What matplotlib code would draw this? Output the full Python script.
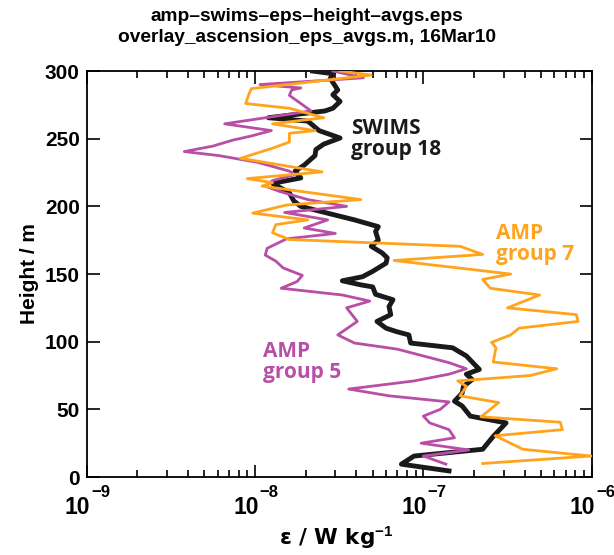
import matplotlib
matplotlib.use("Agg")
import matplotlib.pyplot as plt
import matplotlib.transforms as mtransforms
from matplotlib.ticker import LogLocator, NullFormatter, FixedLocator
import numpy as np


# SWIMS group 18 (black)
swims_h = [300, 298, 294.5, 286, 282.5, 277.5, 272.5, 270.5, 265.5, 263, 260, 256,
           250.5, 246, 242, 237.5, 230.5, 226, 221, 217, 210, 204, 200, 196, 190,
           185, 181.5, 175, 170.5, 165.5, 162, 158, 152, 148, 145, 142, 140.5, 135,
           131, 126, 120, 115, 110, 107.5, 105, 99, 95.5, 89.5, 79.5, 76, 72, 67,
           62, 56, 52.5, 45, 40, 30, 20.5, 15.5, 9.5, 4.5]
swims_eps = [2.2e-8, 2.9e-8, 2.8e-8, 3.1e-8, 2.9e-8, 3.2e-8, 2.9e-8, 2.6e-8, 1.2e-8,
             2.06e-8, 2.2e-8, 2.4e-8, 3.2e-8, 2.56e-8, 2.3e-8, 2.27e-8, 1.96e-8,
             1.73e-8, 1.87e-8, 1.27e-8, 1.6e-8, 1.7e-8, 1.87e-8, 2.5e-8, 3.9e-8,
             5.4e-8, 5.2e-8, 5.4e-8, 4.9e-8, 5.7e-8, 6.1e-8, 6.0e-8, 5.0e-8, 4.35e-8,
             3.3e-8, 4.25e-8, 5.0e-8, 5.2e-8, 6.6e-8, 6.25e-8, 6.4e-8, 5.3e-8, 6.0e-8,
             6.9e-8, 8.2e-8, 8.4e-8, 1.49e-7, 1.8e-7, 2.15e-7, 1.8e-7, 1.95e-7,
             1.73e-7, 1.7e-7, 1.53e-7, 1.7e-7, 1.9e-7, 3.1e-7, 2.6e-7, 2.25e-7,
             8.8e-8, 7.4e-8, 1.42e-7]

# AMP group 5 (magenta)
amp5_h = [300, 295, 290, 287.5, 286, 282, 276, 270.5, 261, 256, 252, 249, 244.5,
          240.5, 237.5, 232.5, 226, 223.5, 219, 215, 211, 205, 200, 195.5, 190, 184,
          180, 176, 169, 164, 159.5, 154.5, 149, 144.5, 139.5, 134.5, 130, 125, 115,
          105, 99, 94.5, 84.5, 80, 76, 71, 65, 60, 55.5, 50, 45, 40, 35, 29, 25, 20,
          15.5, 9.5]
amp5_eps = [2.9e-8, 4.4e-8, 1.07e-8, 1.87e-8, 1.65e-8, 1.6e-8, 1.87e-8, 2.15e-8,
            6.6e-9, 1.25e-8, 9.5e-9, 7.4e-9, 5.6e-9, 3.8e-9, 6.1e-9, 1.04e-8, 1.6e-8,
            1.73e-8, 1.27e-8, 1.15e-8, 1.4e-8, 2.06e-8, 3.5e-8, 1.5e-8, 2.7e-8,
            1.96e-8, 3.0e-8, 1.54e-8, 1.18e-8, 1.15e-8, 1.33e-8, 1.47e-8, 1.91e-8,
            1.78e-8, 1.43e-8, 3.3e-8, 4.8e-8, 3.5e-8, 4.05e-8, 3.1e-8, 3.9e-8, 7.0e-8,
            1.42e-7, 1.8e-7, 1.42e-7, 8.8e-8, 3.6e-8, 6.25e-8, 1.42e-7, 1.26e-7,
            1.0e-7, 1.09e-7, 1.42e-7, 1.53e-7, 9.7e-8, 1.86e-7, 1.0e-7, 1.36e-7]

# AMP group 7 (orange)
amp7_h = [300, 297, 287, 283, 276, 272.5, 265.5, 261, 256, 254, 247.5, 243, 235.5,
          225.5, 220.5, 217.5, 215, 205, 201, 195, 190, 186.5, 180.5, 175.5, 170.5,
          164.5, 160, 150, 146, 139.5, 134.5, 125, 120, 115, 110, 105, 99.5, 95.5,
          85, 80, 75, 71, 67, 60, 55, 44.5, 40.5, 35, 30.5, 20.5, 15.5, 10]
amp7_eps = [3.2e-8, 4.9e-8, 9.5e-9, 9.2e-9, 8.8e-9, 1.6e-8, 2.56e-8, 1.27e-8,
            2.27e-8, 1.6e-8, 1.6e-8, 1.27e-8, 8.2e-9, 2.5e-8, 9.0e-9, 1.27e-8, 1.1e-8,
            4.25e-8, 1.54e-8, 9.7e-9, 2.06e-8, 1.33e-8, 1.27e-8, 1.6e-8, 1.65e-7,
            2.25e-7, 6.7e-8, 3.3e-7, 2.25e-7, 2.5e-7, 4.9e-7, 3.16e-7, 8.1e-7, 8.3e-7,
            3.7e-7, 3.3e-7, 2.54e-7, 2.7e-7, 2.6e-7, 6.2e-7, 4.3e-7, 1.6e-7, 1.8e-7,
            1.65e-7, 2.8e-7, 2.2e-7, 6.5e-7, 6.7e-7, 2.67e-7, 3.9e-7, 9.9e-7, 2.25e-7]

x_major = [1e-9, 1e-8, 1e-7, 1e-6]

BLACK = "#1a1a1a"
MAGENTA = "#b84ea6"
ORANGE = "#ffa41c"

plt.rcParams.update({
    "font.family": ["Liberation Sans", "DejaVu Sans"],
    "font.weight": "bold",
    "mathtext.fontset": "custom",
    "mathtext.rm": "Liberation Sans:bold",
    "mathtext.bf": "Liberation Sans:bold",
    "mathtext.it": "Liberation Sans:bold",
    "axes.linewidth": 1.3,
})

fig = plt.figure(figsize=(6.14, 5.55), dpi=100)
ax = fig.add_axes([0.1412, 0.1405, 0.8225, 0.7315])

ax.plot(swims_eps, swims_h, color=BLACK, lw=3.5, zorder=3)
ax.plot(amp5_eps, amp5_h, color=MAGENTA, lw=2.0, zorder=4)
ax.plot(amp7_eps, amp7_h, color=ORANGE, lw=2.0, zorder=5)

ax.set_xscale("log")
ax.set_xlim(1e-9, 1e-6)
ax.set_ylim(0, 300)
ax.xaxis.set_major_locator(FixedLocator(x_major))
ax.xaxis.set_minor_locator(LogLocator(base=10, subs=range(2, 10), numticks=10))
ax.xaxis.set_minor_formatter(NullFormatter())
ax.xaxis.set_major_formatter(NullFormatter())
ax.yaxis.set_major_locator(FixedLocator([0, 50, 100, 150, 200, 250, 300]))
ax.tick_params(which="both", direction="in", top=True, right=True, width=1.2)
ax.tick_params(which="major", length=9)
ax.tick_params(which="minor", length=5)
ax.tick_params(axis="y", labelsize=15, pad=5)
for lab in ax.get_yticklabels():
    lab.set_fontweight("bold")

# IDL-style "10^n" tick labels with a high superscript
base_tr = mtransforms.blended_transform_factory(ax.transData, ax.transAxes)
for v in x_major:
    expo = int(round(np.log10(v)))
    t1 = mtransforms.offset_copy(base_tr, fig=fig, x=2.5, y=-13.5, units="points")
    ax.text(v, 0, "10", transform=t1, ha="right", va="top", fontsize=16.5,
            fontweight="bold", clip_on=False)
    t2 = mtransforms.offset_copy(base_tr, fig=fig, x=3.0, y=-5.5, units="points")
    ax.text(v, 0, "\u2212%d" % abs(expo), transform=t2, ha="left", va="top",
            fontsize=12, fontweight="bold", clip_on=False)

fig.text(0.548, 0.031, "\u03b5 / W kg$^{-1}$", fontsize=15.5, fontweight="bold",
         ha="center", va="center", family=["DejaVu Sans"])
ax.set_ylabel("Height / m", fontsize=15, fontweight="bold", labelpad=4)

fig.suptitle("amp–swims–eps–height–avgs.eps\noverlay_ascension_eps_avgs.m, 16Mar10",
             fontsize=13.8, fontweight="bold", y=0.985, linespacing=1.3)

ann = dict(fontsize=15, fontweight="bold", family=["Open Sans", "DejaVu Sans"],
           va="center", ha="left", linespacing=1.0)
ax.text(3.7e-8, 250, "SWIMS\ngroup 18", color=BLACK, **ann)
ax.text(2.7e-7, 172, "AMP\ngroup 7", color=ORANGE, **ann)
ax.text(1.12e-8, 85, "AMP\ngroup 5", color=MAGENTA, **ann)

fig.savefig("out.png", dpi=100)
